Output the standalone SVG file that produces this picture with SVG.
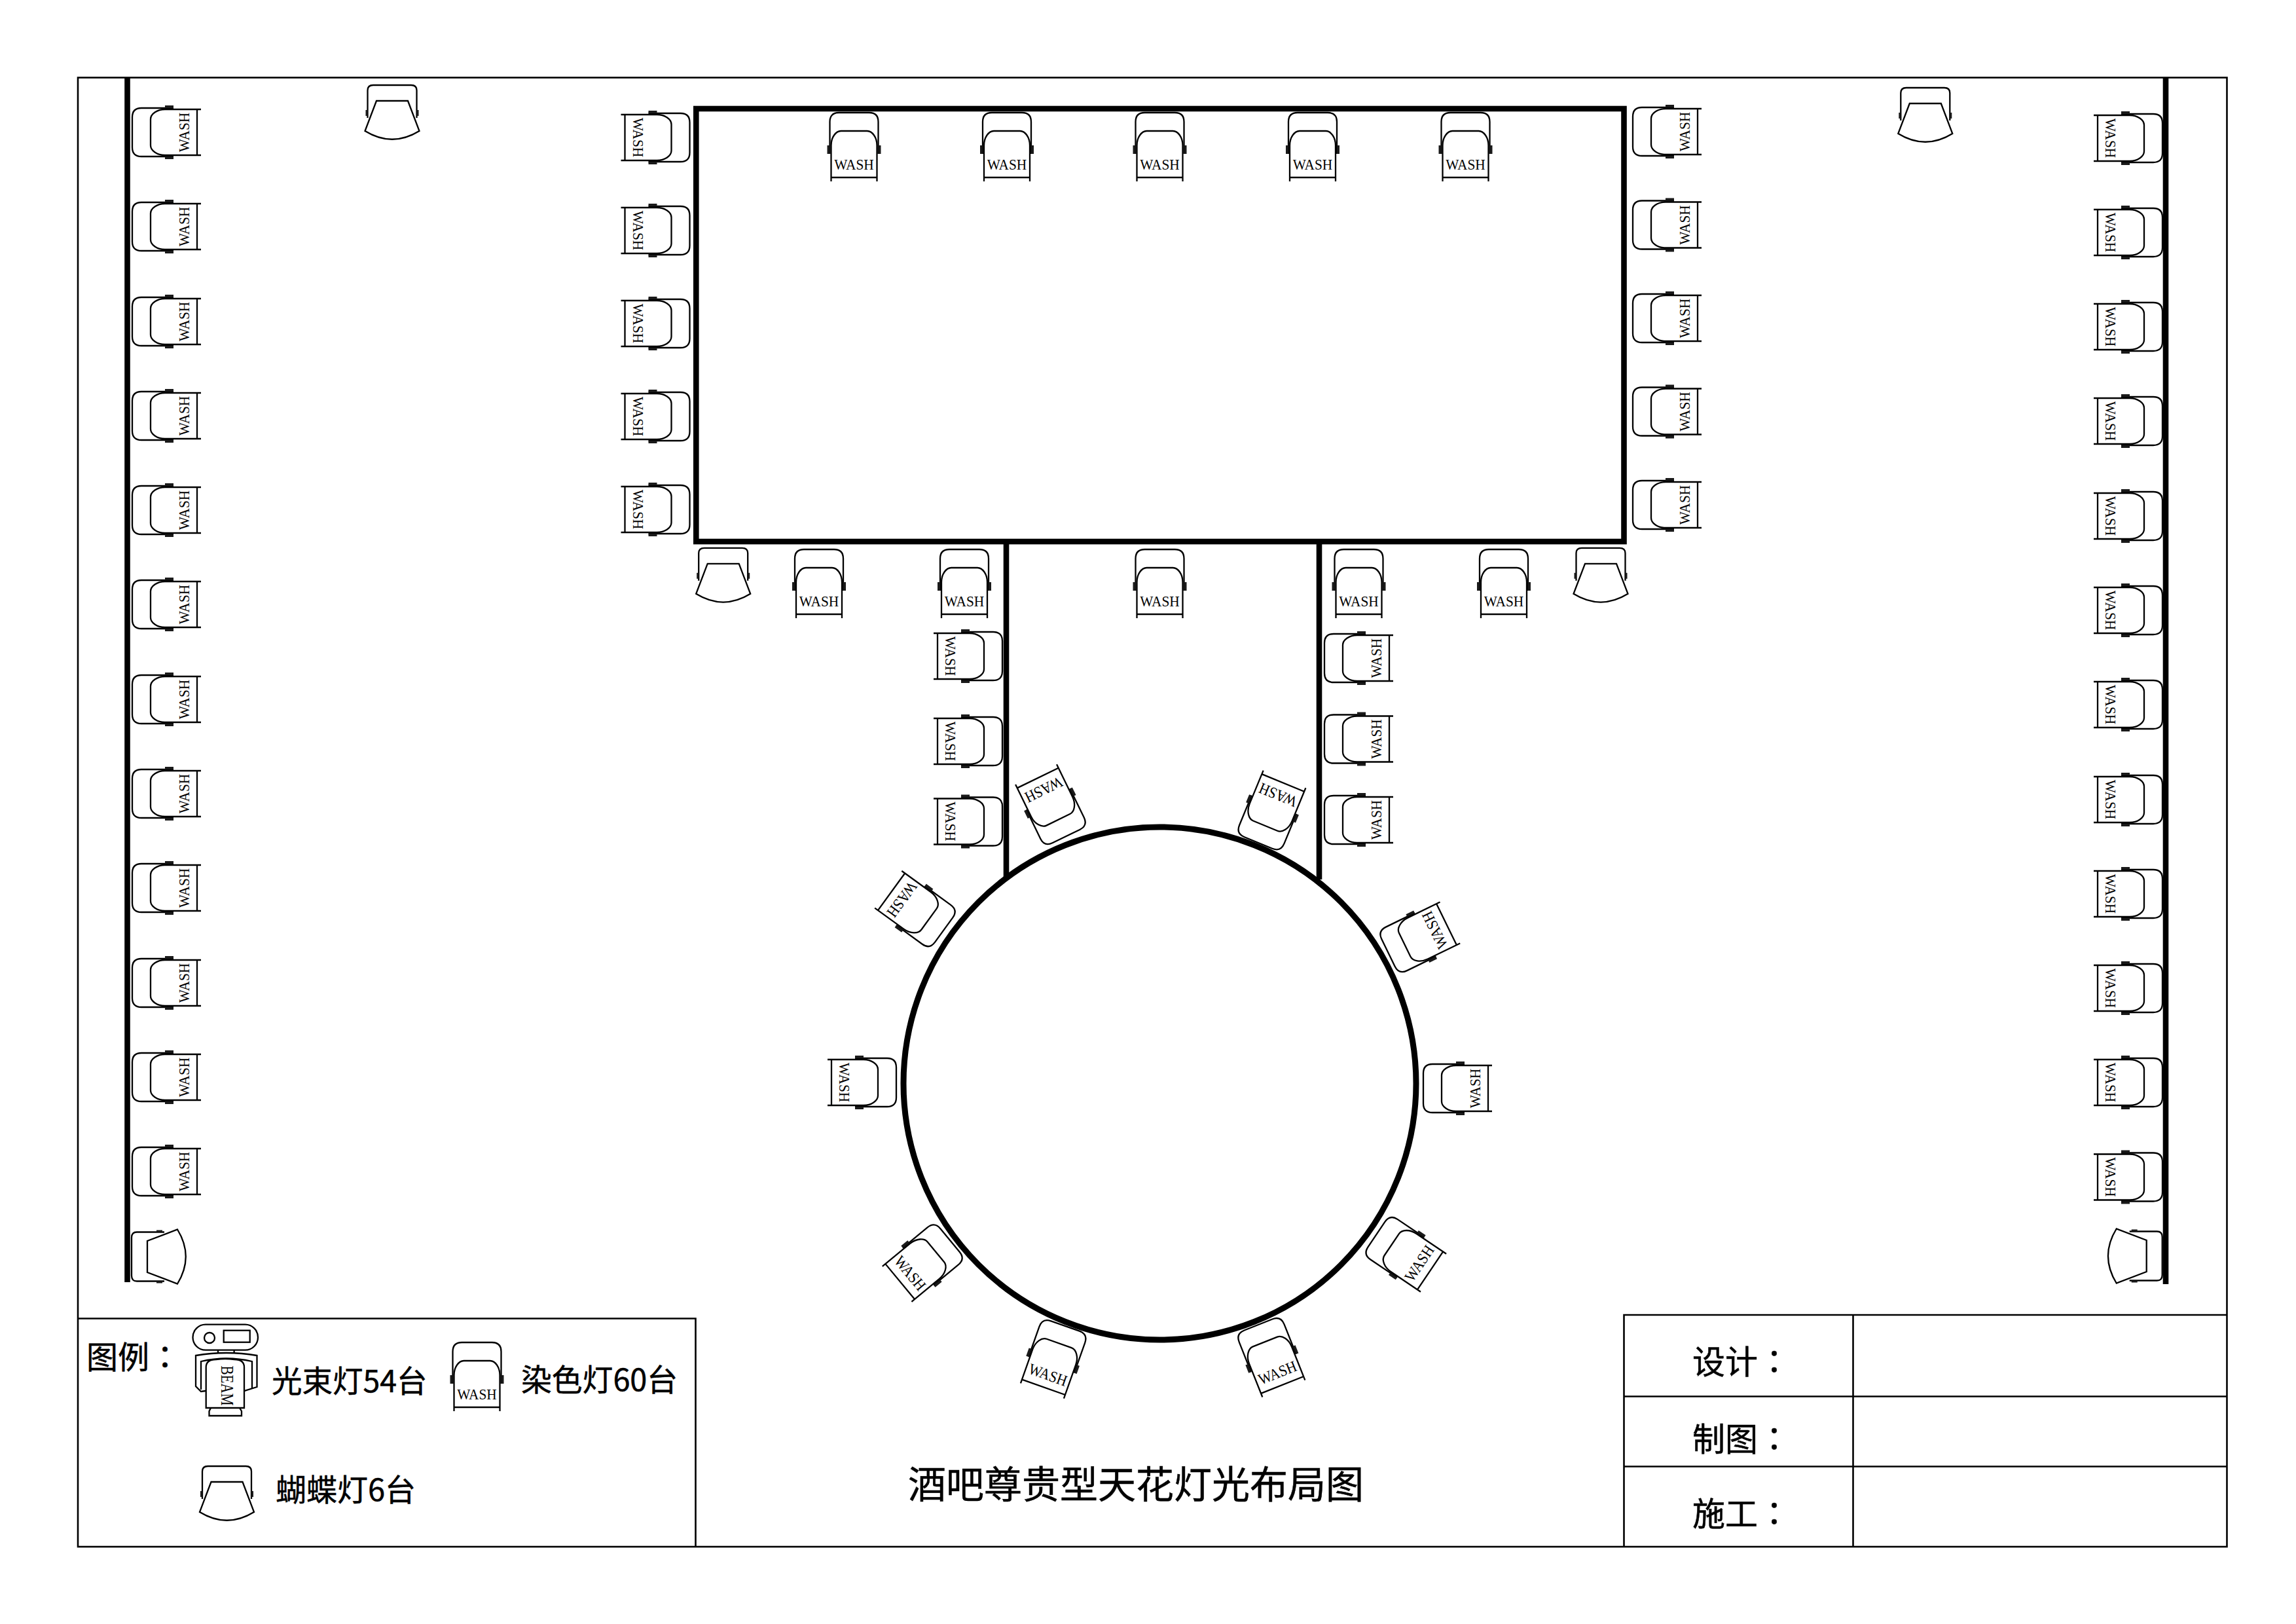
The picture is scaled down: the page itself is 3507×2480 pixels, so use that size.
<svg xmlns="http://www.w3.org/2000/svg" width="3507" height="2480" viewBox="0 0 3507 2480">
<style>
.l{fill:none;stroke:#000;stroke-width:2.3}
.f{fill:#1a1a1a;stroke:none}
.wall{fill:none;stroke:#000;stroke-width:8.6}
.ring{fill:none;stroke:#000;stroke-width:9}
.frame{fill:none;stroke:#000;stroke-width:2.6}
.w{font-family:"Liberation Serif","Times New Roman",serif;font-size:24px;fill:#000;text-anchor:middle;transform:scaleX(.89)}
.c{font-family:"Noto Sans CJK SC","Noto Sans",sans-serif;fill:#000;stroke:#000;stroke-width:.5}
.col{font-family:"Noto Sans CJK TC","Noto Sans CJK SC",sans-serif}
</style>
<defs>
<g id="wb">
<path class="l" d="M-37,63V14Q-37,0-23,0H23Q37,0 37,14V63"/>
<path class="l" d="M-35,105V50C-35,38-28,28-20,28H20C28,28 35,38 35,50V105M-35,99H35"/>
<rect class="f" x="-41" y="50" width="4" height="13"/>
<rect class="f" x="37" y="50" width="4" height="13"/>
</g>
<g id="bb">
<path class="l" d="M-37.500,50V8Q-37.500,0-29,0H29Q37.500,0 37.500,8V50"/>
<path class="l" d="M-24,24H24L41.500,70Q0,95.500-41.500,70Z" style="fill:#fff"/>
<rect class="f" x="-40.500" y="38" width="3" height="9"/>
<rect class="f" x="37.500" y="38" width="3" height="9"/>
</g>
</defs>
<rect width="3507" height="2480" fill="#fff"/>
<g id="frame">
<rect class="frame" x="119" y="118.500" width="3282.500" height="2243.500"/>
<path class="frame" d="M119,2013.500H1062.500V2362M2480.500,2362V2008H3401.500M2830.500,2008V2362M2480.500,2132.500H3401.500M2480.500,2239.500H3401.500"/>
</g>
<g id="connectors">
<path class="wall" d="M194.500,118V1958"/>
<path class="wall" d="M3308,118V1961"/>
<rect class="wall" x="1063.300" y="166" width="1417.200" height="661"/>
<path class="wall" d="M1537,827V1343"/>
<path class="wall" d="M2015,827V1343"/>
<circle class="ring" cx="1771.500" cy="1654.500" r="391.500"/>
</g>
<g id="left-wash">
<g id="wl1" transform="translate(202,202) rotate(-90)"><use href="#wb"/><text class="w" y="87">WASH</text></g>
<g id="wl2" transform="translate(202,346) rotate(-90)"><use href="#wb"/><text class="w" y="87">WASH</text></g>
<g id="wl3" transform="translate(202,491) rotate(-90)"><use href="#wb"/><text class="w" y="87">WASH</text></g>
<g id="wl4" transform="translate(202,635) rotate(-90)"><use href="#wb"/><text class="w" y="87">WASH</text></g>
<g id="wl5" transform="translate(202,779) rotate(-90)"><use href="#wb"/><text class="w" y="87">WASH</text></g>
<g id="wl6" transform="translate(202,923) rotate(-90)"><use href="#wb"/><text class="w" y="87">WASH</text></g>
<g id="wl7" transform="translate(202,1068) rotate(-90)"><use href="#wb"/><text class="w" y="87">WASH</text></g>
<g id="wl8" transform="translate(202,1212) rotate(-90)"><use href="#wb"/><text class="w" y="87">WASH</text></g>
<g id="wl9" transform="translate(202,1356) rotate(-90)"><use href="#wb"/><text class="w" y="87">WASH</text></g>
<g id="wl10" transform="translate(202,1501) rotate(-90)"><use href="#wb"/><text class="w" y="87">WASH</text></g>
<g id="wl11" transform="translate(202,1645) rotate(-90)"><use href="#wb"/><text class="w" y="87">WASH</text></g>
<g id="wl12" transform="translate(202,1789) rotate(-90)"><use href="#wb"/><text class="w" y="87">WASH</text></g>
</g>
<g id="right-wash">
<g id="wr1" transform="translate(3303,211) rotate(90)"><use href="#wb"/><text class="w" y="87">WASH</text></g>
<g id="wr2" transform="translate(3303,355) rotate(90)"><use href="#wb"/><text class="w" y="87">WASH</text></g>
<g id="wr3" transform="translate(3303,499) rotate(90)"><use href="#wb"/><text class="w" y="87">WASH</text></g>
<g id="wr4" transform="translate(3303,643) rotate(90)"><use href="#wb"/><text class="w" y="87">WASH</text></g>
<g id="wr5" transform="translate(3303,788) rotate(90)"><use href="#wb"/><text class="w" y="87">WASH</text></g>
<g id="wr6" transform="translate(3303,932) rotate(90)"><use href="#wb"/><text class="w" y="87">WASH</text></g>
<g id="wr7" transform="translate(3303,1076) rotate(90)"><use href="#wb"/><text class="w" y="87">WASH</text></g>
<g id="wr8" transform="translate(3303,1221) rotate(90)"><use href="#wb"/><text class="w" y="87">WASH</text></g>
<g id="wr9" transform="translate(3303,1365) rotate(90)"><use href="#wb"/><text class="w" y="87">WASH</text></g>
<g id="wr10" transform="translate(3303,1509) rotate(90)"><use href="#wb"/><text class="w" y="87">WASH</text></g>
<g id="wr11" transform="translate(3303,1653) rotate(90)"><use href="#wb"/><text class="w" y="87">WASH</text></g>
<g id="wr12" transform="translate(3303,1797.500) rotate(90)"><use href="#wb"/><text class="w" y="87">WASH</text></g>
</g>
<g id="rect-left-wash">
<g id="ra1" transform="translate(1053.500,210) rotate(90)"><use href="#wb"/><text class="w" y="87">WASH</text></g>
<g id="ra2" transform="translate(1053.500,352) rotate(90)"><use href="#wb"/><text class="w" y="87">WASH</text></g>
<g id="ra3" transform="translate(1053.500,494) rotate(90)"><use href="#wb"/><text class="w" y="87">WASH</text></g>
<g id="ra4" transform="translate(1053.500,636) rotate(90)"><use href="#wb"/><text class="w" y="87">WASH</text></g>
<g id="ra5" transform="translate(1053.500,778) rotate(90)"><use href="#wb"/><text class="w" y="87">WASH</text></g>
</g>
<g id="rect-right-wash">
<g id="rb1" transform="translate(2494,201) rotate(-90)"><use href="#wb"/><text class="w" y="87">WASH</text></g>
<g id="rb2" transform="translate(2494,343.500) rotate(-90)"><use href="#wb"/><text class="w" y="87">WASH</text></g>
<g id="rb3" transform="translate(2494,486) rotate(-90)"><use href="#wb"/><text class="w" y="87">WASH</text></g>
<g id="rb4" transform="translate(2494,628.500) rotate(-90)"><use href="#wb"/><text class="w" y="87">WASH</text></g>
<g id="rb5" transform="translate(2494,771) rotate(-90)"><use href="#wb"/><text class="w" y="87">WASH</text></g>
</g>
<g id="rect-top-wash">
<g id="rc1" transform="translate(1304.500,172)"><use href="#wb"/><text class="w" y="87">WASH</text></g>
<g id="rc2" transform="translate(1538,172)"><use href="#wb"/><text class="w" y="87">WASH</text></g>
<g id="rc3" transform="translate(1771.500,172)"><use href="#wb"/><text class="w" y="87">WASH</text></g>
<g id="rc4" transform="translate(2005,172)"><use href="#wb"/><text class="w" y="87">WASH</text></g>
<g id="rc5" transform="translate(2238.500,172)"><use href="#wb"/><text class="w" y="87">WASH</text></g>
</g>
<g id="rect-bottom-wash">
<g id="rd1" transform="translate(1251,839)"><use href="#wb"/><text class="w" y="87">WASH</text></g>
<g id="rd2" transform="translate(1473,839)"><use href="#wb"/><text class="w" y="87">WASH</text></g>
<g id="rd3" transform="translate(1771.500,839)"><use href="#wb"/><text class="w" y="87">WASH</text></g>
<g id="rd4" transform="translate(2075.500,839)"><use href="#wb"/><text class="w" y="87">WASH</text></g>
<g id="rd5" transform="translate(2297,839)"><use href="#wb"/><text class="w" y="87">WASH</text></g>
</g>
<g id="neck-wash">
<g id="na1" transform="translate(1531,1002) rotate(90)"><use href="#wb"/><text class="w" y="87">WASH</text></g>
<g id="na2" transform="translate(1531,1132) rotate(90)"><use href="#wb"/><text class="w" y="87">WASH</text></g>
<g id="na3" transform="translate(1531,1254.500) rotate(90)"><use href="#wb"/><text class="w" y="87">WASH</text></g>
<g id="nb1" transform="translate(2023,1005) rotate(-90)"><use href="#wb"/><text class="w" y="87">WASH</text></g>
<g id="nb2" transform="translate(2023,1128.500) rotate(-90)"><use href="#wb"/><text class="w" y="87">WASH</text></g>
<g id="nb3" transform="translate(2023,1252) rotate(-90)"><use href="#wb"/><text class="w" y="87">WASH</text></g>
</g>
<g id="circle-wash">
<g id="ca1" transform="translate(1628.600,1277) rotate(154)"><use href="#wb"/><text class="w" y="87">WASH</text></g>
<g id="ca2" transform="translate(1922,1287) rotate(202.400)"><use href="#wb"/><text class="w" y="87">WASH</text></g>
<g id="ca3" transform="translate(2120.500,1455) rotate(244)"><use href="#wb"/><text class="w" y="87">WASH</text></g>
<g id="ca4" transform="translate(2174,1662) rotate(-90)"><use href="#wb"/><text class="w" y="87">WASH</text></g>
<g id="ca5" transform="translate(2102.500,1885) rotate(-56)"><use href="#wb"/><text class="w" y="87">WASH</text></g>
<g id="ca6" transform="translate(1922,2023) rotate(-21.700)"><use href="#wb"/><text class="w" y="87">WASH</text></g>
<g id="ca7" transform="translate(1627,2025) rotate(19.500)"><use href="#wb"/><text class="w" y="87">WASH</text></g>
<g id="ca8" transform="translate(1451,1894) rotate(50.400)"><use href="#wb"/><text class="w" y="87">WASH</text></g>
<g id="ca9" transform="translate(1369,1653) rotate(90)"><use href="#wb"/><text class="w" y="87">WASH</text></g>
<g id="ca10" transform="translate(1441.700,1420) rotate(126)"><use href="#wb"/><text class="w" y="87">WASH</text></g>
</g>
<g id="butterflies">
<g id="b1" transform="translate(599,130)"><use href="#bb"/></g>
<g id="b2" transform="translate(2940.800,134)"><use href="#bb"/></g>
<g id="b3" transform="translate(1104.700,836.800)"><use href="#bb"/></g>
<g id="b4" transform="translate(2445,836.800)"><use href="#bb"/></g>
<g id="b5" transform="translate(201,1919) rotate(-90)"><use href="#bb"/></g>
<g id="b6" transform="translate(3302.700,1918) rotate(90)"><use href="#bb"/></g>
</g>
<g id="legend">
<text class="c" x="132" y="2090" font-size="48">图例<tspan class="col">：</tspan></text>
<g id="legend-beam">
<rect class="l" x="294.500" y="2022.700" width="99.500" height="39" rx="19.500"/>
<circle class="l" cx="320" cy="2043" r="8"/>
<rect class="l" x="341.700" y="2031.700" width="40" height="18"/>
<path class="l" d="M333,2061.700V2068M357.600,2061.700V2068"/>
<path class="l" d="M299,2070Q346,2062 392.500,2070V2118L373,2124H314L307,2125L299,2117Z" style="fill:#fff"/>
<path class="l" d="M307,2122V2079Q346,2070 385,2079V2120"/>
<path class="l" d="M314.700,2150V2088Q314.700,2076 330,2076Q344,2074 358,2076Q373,2076 373,2088V2150Z" style="fill:#fff"/>
<path class="l" d="M322,2150L319.500,2155V2162H369V2155L366,2150"/>
<g transform="translate(337.500,2116) rotate(90) scale(1.13,1.3)"><text class="w" style="font-size:21px">BEAM</text></g>
</g>
<text class="c" x="415" y="2126" font-size="46.500">光束灯54台</text>
<g id="legend-wash" transform="translate(728.500,2050)"><use href="#wb"/><text class="w" y="87">WASH</text></g>
<text class="c" x="796" y="2124" font-size="46.800">染色灯60台</text>
<g id="legend-butterfly" transform="translate(346.500,2239)"><use href="#bb"/></g>
<text class="c" x="421" y="2292" font-size="47">蝴蝶灯6台</text>
</g>
<g id="title">
<text class="c" x="1387" y="2288" font-size="58">酒吧尊贵型天花灯光布局图</text>
</g>
<g id="signoff">
<text class="c" x="2585" y="2098" font-size="50">设计<tspan class="col">：</tspan></text>
<text class="c" x="2585" y="2216" font-size="50">制图<tspan class="col">：</tspan></text>
<text class="c" x="2585" y="2330" font-size="50">施工<tspan class="col">：</tspan></text>
</g>
</svg>
